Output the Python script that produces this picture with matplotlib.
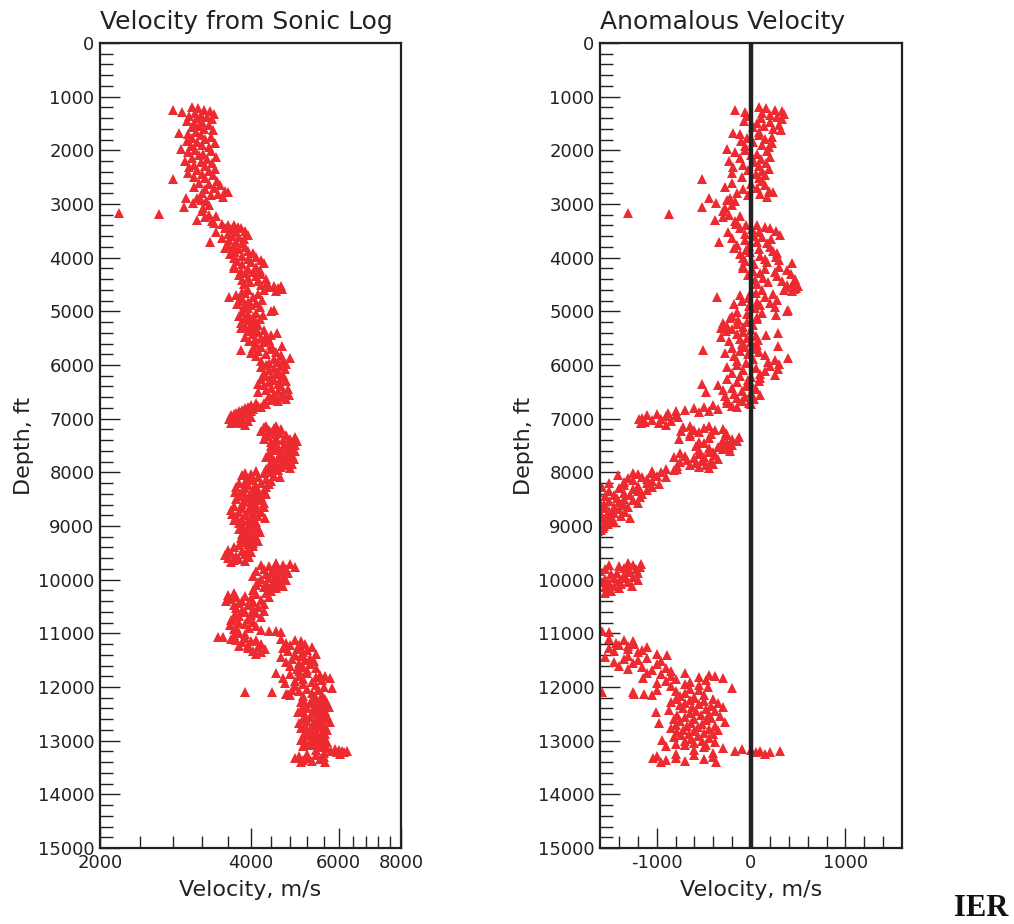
import matplotlib
matplotlib.use("Agg")
import matplotlib.pyplot as plt
from matplotlib.ticker import FixedLocator, NullFormatter

# ---------------- data ----------------
depth = [
 1190,1215,1240,1255,1270,1290,1305,1320,1340,
 1360,1385,1405,1425,1445,1470,1495,1520,1545,1570,1600,1625,1650,
 1680,1700,1720,1745,1770,1795,1820,1845,1870,1895,1920,1945,
 1975,1995,2015,2040,2065,2090,2115,2140,2165,2190,2215,2240,2265,2290,2315,2340,2365,2390,2415,2440,2465,2490,2510,
 2534,2570,2600,2625,2650,2675,2700,2725,2750,2770,2790,2815,2840,2865,2885,
 2894,2920,2944,2987,3010,3049,3080,3130,3160,3186,3210,3225,3250,3298,3320,3348,
 3370,3385,3400,3420,3440,3455,3475,3495,3515,3530,3550,3577,3595,3615,3633,3650,3670,3700,3715,3735,3755,3775,3800,3820,3840,3860,3880,3900,3920,3940,3960,3980,4000,4020,4040,4060,4080,4105,4125,
 4150,4170,4190,4210,4230,4250,4270,4290,4310,4330,4350,4370,4390,4410,4430,4450,4470,4490,
 4505,4520,4535,4550,4565,4580,4595,4610,4625,4640,
 4660,4680,4700,4725,4740,4760,4780,4800,4820,4840,4860,4880,4900,4920,4940,
 4975,4990,5010,5030,5050,5070,5090,5110,5130,5150,5170,5190,5210,5230,5250,5270,5290,5310,
 5330,5350,5370,5390,5410,5430,5445,5460,5480,5500,5520,5540,5560,5580,5600,5620,
 5645,5660,5680,5700,5720,5740,5760,5780,5800,5820,5840,5865,5880,5900,5920,5940,5960,5980,
 6000,6020,6040,6060,6080,6100,6120,6140,6160,6180,6200,6220,6240,6260,6280,6300,6320,6345,6360,
 6380,6400,6420,6440,6460,6480,6500,6520,6540,6560,6580,6600,6620,6640,6660,6680,
 6700,6715,6730,6745,6760,6775,6790,6805,6820,6835,6850,6865,6880,6895,
 6910,6925,6940,6955,6970,6985,7000,7015,7030,7045,7060,7075,7090,7110,
 7130,7145,7160,7175,7190,7205,7220,7235,7250,7265,7280,7295,
 7310,7325,7340,7355,7370,7385,7400,7415,7430,
 7445,7460,7475,7490,7505,7520,7535,7550,7565,7580,7600,7615,
 7630,7645,7660,7675,7690,7705,7720,7735,7750,7765,7780,7795,7810,7825,7840,7855,7870,7885,7900,7915,
 7930,7945,7960,7975,7990,8005,8020,8035,8050,8065,8080,8095,8110,8125,8140,8160,8175,
 8190,8205,8220,8235,8250,8265,8280,8295,8310,8325,8340,8355,8370,8385,8400,8415,8430,8445,8460,8475,8490,8505,8520,8535,8550,8570,8590,8605,
 8625,8640,8655,8670,8685,8700,8715,8730,8745,8760,8775,8790,8805,8820,8835,8850,8865,8880,8895,8910,8925,8945,8965,
 8985,9000,9020,9040,9060,9080,9100,9120,9140,9160,9180,9200,9220,9240,9260,9280,9300,9320,9340,
 9360,9380,9400,9420,9440,9460,9480,9500,9520,9540,9560,9580,9600,9620,9640,9660,9680,
 9690,9705,9720,9735,9750,9765,9780,9795,9810,9825,9840,9855,9870,9885,9900,9915,9930,9945,9960,9975,9990,10005,10020,10035,10050,10065,10080,10095,10110,10125,10140,10160,10180,10200,10220,
 10240,10255,10270,10285,10300,10315,10330,10345,10360,10375,10390,10405,10420,10435,10450,10465,
 10480,10500,10520,10540,10560,10580,10600,10620,10640,10660,10680,10700,
 10720,10740,10760,10780,10800,10820,10840,10860,10880,10900,10920,10940,10955,10965,10975,10990,11010,
 11040,11060,11070,11085,11100,11115,11130,11150,11170,11190,11210,11230,11250,11270,11290,11320,11350,11380,
 11110,11130,11150,11175,11195,11215,11235,11255,11275,11295,11315,11335,11355,11380,11400,11420,11440,11460,11480,11500,11520,11540,11560,11580,11600,11620,11640,11660,11680,11700,
 11730,11745,11760,11775,11790,11800,11810,11825,11840,11855,11870,11885,11900,
 11920,11940,11960,11980,12000,12020,12035,12050,12065,12080,12090,12100,12115,12130,12135,12140,12150,12165,12180,
 12200,12215,12230,12245,12260,12275,12290,12305,12320,12335,12350,12365,12380,12395,12410,12425,12440,12455,12470,12485,12500,12515,12530,12545,12560,12575,12590,12605,12620,12635,12650,12665,12675,12690,12705,12720,12735,12750,12765,12780,12795,12810,12825,12840,12855,12870,12885,12900,12915,12930,12945,12960,12985,13000,13015,13030,13045,13060,13075,
 13090,13105,13120,13135,13150,13165,13175,13185,13195,13200,13210,13220,13230,13240,13250,
 13270,13285,13300,13315,13330,13345,13360,13375,13390,13405,
]

velocity = [
 3050,3140,2800,3230,3320,2920,3100,3380,3180,
 3010,3270,3120,3350,2990,3200,3080,3300,3150,3050,3230,3360,3110,
 2880,3000,3180,3330,3060,3250,2990,3120,3400,3200,3040,3300,
 2906,3100,3330,3000,3220,3150,3420,3060,3280,2960,3180,3350,3080,3250,3010,3400,3130,3300,3000,3200,3370,3090,3240,
 2793,3424,3150,3300,3480,3080,3380,3250,3560,3609,3200,3450,3330,3520,3120,
 2972,3180,3258,3069,3300,2940,3220,3196,2183,2620,3310,3420,3240,3130,3350,3385,
 3500,3700,3600,3780,3550,3820,3650,3900,3415,3720,3600,3950,3680,3800,3500,3880,3620,3320,3750,3860,3600,3700,3900,3560,3800,3680,3950,3720,4050,3640,3850,4100,3700,3950,4200,3760,4000,4250,3850,
 3710,4100,3710,3950,4180,3820,4050,3900,4200,3800,4100,3950,4300,3850,4150,3990,4320,3880,
 4200,4450,4600,4350,4550,4630,3950,4250,4500,3850,
 3900,4150,3750,3620,4050,3850,4220,3800,3950,4100,3760,4000,3880,4180,3950,
 4457,4400,3850,4100,3950,4230,3800,4050,3900,4180,3990,4100,3830,4000,4150,3900,4060,3820,
 4000,4250,3950,4150,4513,4050,4400,4300,3900,4200,4080,4350,3980,4250,4100,4400,
 4617,4200,4050,4400,3830,4150,4500,4000,4300,4600,4100,4788,4450,4650,4200,4550,4350,4700,
 4300,4600,4200,4450,4680,4350,4550,4250,4500,4650,4300,4400,4600,4200,4450,4700,4350,4150,4550,
 4250,4600,4400,4750,4300,4550,4150,4650,4450,4780,4350,4600,4500,4700,4400,4550,
 4250,4100,4300,4000,4150,3950,4200,3900,4050,3850,4000,3800,3950,3750,
 3700,3900,3650,3800,4000,3680,3850,3630,3750,3950,3700,3820,3650,3900,
 4300,4500,4250,4450,4600,4350,4550,4200,4400,4580,4300,4480,
 4700,4300,4900,4500,4800,4250,4650,4950,4400,
 4800,4500,4700,4900,4400,4650,4850,4550,4750,4450,4900,4600,
 4750,4350,4600,4850,4400,4700,4300,4550,4880,4450,4650,4800,4400,4600,4850,4500,4700,4350,4600,4800,
 4500,4300,4550,4100,4400,3900,4250,4000,3850,4450,4150,4580,3950,4300,4050,4400,3900,
 4200,3800,4350,3950,4100,3750,4300,3900,4050,4250,3850,4150,3720,4000,4300,3900,4100,3800,4200,3950,4050,3750,4150,3880,4000,4250,3850,4100,
 3700,4000,4250,3850,4100,3650,3950,4200,3800,4050,3680,3900,4150,3750,4000,4270,3850,4050,3700,3950,4100,3800,4000,
 3850,4100,3950,4150,3800,4000,3900,4180,3850,4050,3950,4100,3820,4000,3900,4150,3850,4050,3950,
 3800,4050,3700,3950,3600,3850,4000,3650,3900,3550,3750,3980,3600,3800,3700,3900,3650,
 4500,4800,4200,4650,4350,4900,4450,4250,4700,4550,4100,4600,4400,4750,4300,4500,4050,4650,4350,4550,4200,4700,4450,4150,4600,4300,4500,4100,4400,4650,4250,4500,4350,4050,4400,
 4300,3700,4100,3600,3900,4350,3750,4000,3650,4200,3850,3580,4050,3800,4250,3700,
 3950,4150,3750,4050,3850,4250,3900,4100,3720,4000,3800,4200,
 3700,3950,3650,4050,3800,3900,3640,4100,3750,3980,3700,4200,4350,4500,4600,3800,3900,
 3700,3530,3450,3900,3650,4100,3750,4000,3850,4200,3950,3800,4150,3950,4270,4050,4200,4100,
 4600,4900,5050,4700,5150,4800,5000,5300,4650,4950,5200,4750,5100,5400,4900,5050,4600,5250,4850,5150,5350,4700,5000,5250,4800,5100,5400,4950,5200,5000,
 4500,5200,4800,5500,5000,5650,5400,4650,5760,5100,5550,4900,5300,
 4680,5100,5400,4900,5600,5810,5200,4850,5450,5000,4410,3900,5300,4700,4750,4800,5550,5100,5350,
 5400,5100,5650,5300,5500,5050,5700,5250,5450,5150,5600,5350,5750,5200,5500,5050,5400,5650,4980,5300,5550,5150,5450,5700,5250,5600,5100,5400,5550,5200,5760,5350,5000,5500,5150,5650,5300,5450,5050,5600,5250,5700,5400,5150,5550,5300,5650,5200,5450,5100,5600,5350,5050,5500,5250,5700,5400,5150,5550,
 5300,5100,5500,5700,5900,5400,6000,6100,6230,5800,6150,5950,5600,6050,5200,
 5400,5000,5600,5200,4900,5500,5100,5300,5630,5050,
]

anomaly = [
 90,160,-165,250,330,-60,120,345,200,
 -40,280,110,330,-70,200,60,300,140,20,230,320,90,
 -195,-120,80,220,-40,150,-110,20,225,120,-60,190,
 -253,-60,170,-170,60,0,200,-120,110,-230,30,160,-90,80,-190,190,-30,120,-200,50,150,-100,90,
 -516,120,-200,0,150,-277,60,-80,190,238,-150,100,-30,170,-220,
 -446,-250,-165,-375,-200,-523,-280,-295,-1299,-867,-236,-120,-300,-383,-172,-150,
 -160,60,-50,150,-120,200,10,260,-240,80,-60,302,30,120,-200,210,-60,-334,60,170,-150,-20,200,-180,80,-50,230,-10,280,-120,100,260,-80,150,300,-60,170,430,30,
 -90,300,-80,150,380,20,250,100,420,-30,280,130,470,40,330,180,460,60,
 380,470,500,420,480,460,120,350,430,0,
 50,230,-120,-358,150,-30,280,-100,60,200,-180,100,-20,250,40,
 396,380,-150,120,-40,260,-200,60,-220,60,-140,-40,-300,-150,20,-250,-80,-320,
 -200,0,-260,-80,284,-150,158,50,-320,-40,-120,70,-230,0,-100,60,
 290,-60,-200,40,-505,-120,80,-280,-30,150,-180,395,20,250,-150,180,-50,300,
 -150,200,-250,50,290,-80,150,-200,100,250,-120,0,100,-250,-30,80,-150,-523,0,
 -350,-50,-200,50,-300,-100,-481,0,-180,100,-280,-60,-150,30,-250,-100,
 -20,-250,0,-400,-200,-500,-150,-600,-350,-700,-450,-800,-550,-880,
 -1000,-800,-1100,-900,-770,-1150,-950,-1190,-1050,-850,-1120,-980,-1170,-900,
 -650,-450,-720,-500,-300,-600,-380,-745,-550,-270,-650,-420,
 -250,-650,-130,-450,-200,-763,-300,-150,-550,
 -250,-500,-300,-200,-585,-350,-230,-450,-300,-550,-220,-400,
 -450,-750,-550,-380,-700,-500,-820,-600,-350,-680,-520,-420,-750,-580,-400,-650,-480,-780,-550,-450,
 -780,-900,-820,-1050,-950,-1250,-1050,-1200,-1410,-1000,-1150,-900,-1300,-1100,-1250,-1050,-1350,
 -1100,-1500,-980,-1350,-1200,-1580,-1050,-1400,-1250,-1100,-1500,-1200,-1620,-1350,-1150,-1450,-1280,-1550,-1180,-1420,-1350,-1620,-1250,-1500,-1400,-1200,-1560,-1350,
 -1650,-1450,-1300,-1560,-1400,-1700,-1500,-1330,-1600,-1450,-1680,-1530,-1380,-1650,-1480,-1280,-1580,-1460,-1700,-1540,-1450,-1620,-1520,
 -1640,-1560,-1600,-1570,-1700,-1590,-1620,-1650,-1800,-1700,-1750,-1680,-1850,-1750,-1800,-1700,-1850,-1750,-1800,
 -1850,-1700,-1900,-1780,-2000,-1850,-1750,-1950,-1820,-2050,-1900,-1760,-2000,-1880,-1950,-1850,-2000,
 -1300,-1170,-1500,-1250,-1400,-1180,-1350,-1550,-1220,-1300,-1600,-1280,-1420,-1200,-1480,-1350,-1620,-1250,-1450,-1330,-1550,-1200,-1400,-1580,-1300,-1500,-1380,-1650,-1450,-1260,-1550,-1400,-1500,-1700,-1480,
 -1550,-1900,-1700,-2000,-1850,-1650,-1950,-1800,-2000,-1700,-1900,-2100,-1800,-1950,-1700,-2000,
 -1850,-1750,-2000,-1800,-1950,-1700,-1900,-1800,-2050,-1850,-2000,-1750,
 -2050,-1900,-2100,-1850,-2000,-1950,-2100,-1850,-2050,-1900,-2100,-1700,-1650,-1576,-1508,-2000,-1950,
 -2050,-2200,-2300,-1950,-2100,-1850,-2050,-1900,-2000,-1800,-1950,-2050,-1850,-1950,-1750,-1900,-1800,-1850,
 -1500,-1350,-1250,-1430,-1235,-1400,-1300,-1100,-1500,-1300,-1150,-1450,-1200,-1000,-890,-1300,-1550,-1100,-1350,-1200,-950,-1450,-1250,-1000,-1400,-1150,-900,-1300,-1050,-850,
 -1100,-700,-950,-450,-850,-380,-550,-1145,-300,-800,-480,-900,-650,
 -1000,-700,-550,-850,-460,-200,-650,-1000,-550,-800,-1250,-1576,-700,-1235,-1130,-1047,-500,-750,-600,
 -600,-800,-400,-650,-500,-850,-350,-700,-550,-750,-420,-620,-300,-720,-480,-870,-580,-380,-1007,-650,-450,-780,-530,-330,-700,-420,-820,-600,-480,-750,-280,-640,-973,-520,-800,-380,-680,-560,-850,-450,-720,-350,-600,-780,-500,-660,-400,-740,-560,-820,-450,-640,-938,-520,-700,-380,-600,-800,-480,
 -700,-900,-500,-300,-100,-600,0,100,310,-165,200,50,-400,150,-800,
 -600,-1000,-400,-800,-1040,-500,-900,-700,-375,-950,
]

n = min(len(depth), len(velocity), len(anomaly))
depth, velocity, anomaly = depth[:n], velocity[:n], anomaly[:n]

vel_major = [2000, 4000, 6000, 8000]
vel_minor = [2400, 2800, 3200, 3600, 4400, 4800, 5200, 5600, 6400, 6800, 7200, 7600]
anom_major = [-1000, 0, 1000]
anom_minor = [-1400, -1200, -800, -600, -400, -200, 200, 400, 600, 800, 1200, 1400]
depth_major = list(range(0, 15001, 1000))
depth_minor = list(range(0, 15001, 200))

# ---------------- styling ----------------
plt.rcParams['font.family'] = ['DejaVu Sans']
RED = '#EC2A30'
INK = '#222222'

fig = plt.figure(figsize=(10.14, 9.24), dpi=100)
ax1 = fig.add_axes([100/1014, 76/924, 301/1014, 805/924])
ax2 = fig.add_axes([600/1014, 76/924, 302/1014, 805/924])

ax1.plot(velocity, depth, linestyle='none', marker='^', ms=6.5, mew=0, color=RED)
ax2.plot(anomaly, depth, linestyle='none', marker='^', ms=6.5, mew=0, color=RED)
ax2.axvline(0, color=INK, lw=3.2, zorder=3)

ax1.set_xscale('log')
ax1.set_xlim(2000, 8000)
ax1.xaxis.set_major_locator(FixedLocator(vel_major))
ax1.set_xticklabels([str(v) for v in vel_major])
ax1.xaxis.set_minor_locator(FixedLocator(vel_minor))
ax1.xaxis.set_minor_formatter(NullFormatter())

ax2.set_xlim(-1600, 1600)
ax2.xaxis.set_major_locator(FixedLocator(anom_major))
ax2.set_xticklabels([str(v) for v in anom_major])
ax2.xaxis.set_minor_locator(FixedLocator(anom_minor))
ax2.xaxis.set_minor_formatter(NullFormatter())

for ax, title in ((ax1, 'Velocity from Sonic Log'), (ax2, 'Anomalous Velocity')):
    ax.set_ylim(15000, 0)
    ax.yaxis.set_major_locator(FixedLocator(depth_major))
    ax.set_yticklabels([str(d) for d in depth_major])
    ax.yaxis.set_minor_locator(FixedLocator(depth_minor))
    ax.yaxis.set_minor_formatter(NullFormatter())
    ax.tick_params(which='both', direction='in', top=False, right=False,
                   colors=INK, width=1.0, labelsize=13)
    ax.tick_params(which='major', length=14.5, pad=4)
    ax.tick_params(which='minor', length=9)
    for s in ax.spines.values():
        s.set_linewidth(1.6)
        s.set_color(INK)
    ax.set_title(title, loc='left', fontsize=18, color=INK, pad=10)
    ax.set_xlabel('Velocity, m/s', fontsize=16, color=INK, labelpad=6)
    ax.set_ylabel('Depth, ft', fontsize=16, color=INK, labelpad=3)

fig.text(981/1014, (924-908)/924, 'IER', ha='center', va='center',
         fontsize=22, fontweight='bold', family=['Liberation Serif', 'DejaVu Serif'], color='#111111')

fig.savefig('out.png', dpi=100)
